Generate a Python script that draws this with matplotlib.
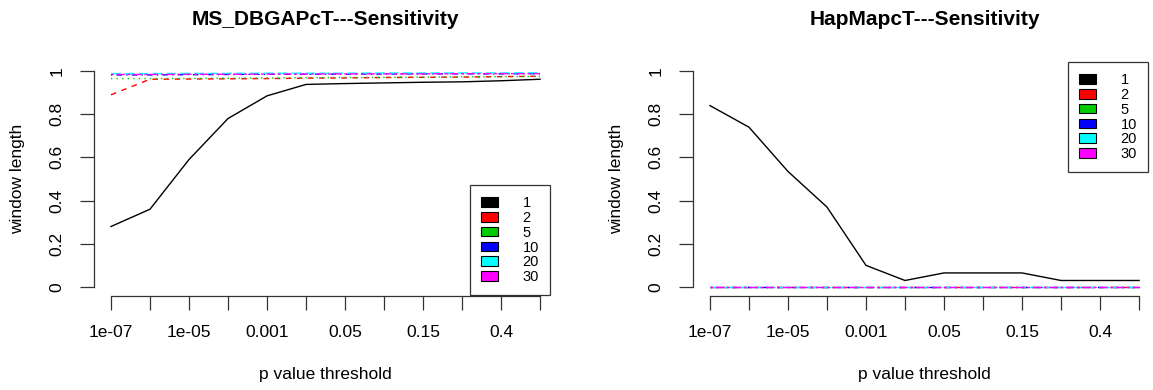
import matplotlib

matplotlib.use("Agg")
import matplotlib.pyplot as plt
from matplotlib.patches import Patch

plt.rcParams["font.family"] = ["Liberation Sans", "DejaVu Sans"]

thresholds = ["1e-07", "1e-06", "1e-05", "1e-04", "0.001", "0.01",
              "0.05", "0.1", "0.15", "0.2", "0.4", "0.5"]
windows = ["1", "2", "5", "10", "20", "30"]

# MS_DBGAPcT sensitivity per window length
ms_w1 = [0.28, 0.36, 0.59, 0.78, 0.885, 0.938, 0.942, 0.945, 0.948, 0.95, 0.955, 0.962]
ms_w2 = [0.89, 0.962, 0.963, 0.964, 0.965, 0.967, 0.968, 0.97, 0.971, 0.972, 0.974, 0.976]
ms_w5 = [0.965, 0.965, 0.966, 0.967, 0.968, 0.969, 0.97, 0.971, 0.972, 0.973, 0.974, 0.975]
ms_w10 = [0.982, 0.982, 0.983, 0.984, 0.985, 0.985, 0.986, 0.986, 0.987, 0.987, 0.987, 0.988]
ms_w20 = [0.988, 0.988, 0.989, 0.989, 0.99, 0.99, 0.99, 0.991, 0.991, 0.991, 0.991, 0.992]
ms_w30 = [0.984, 0.984, 0.985, 0.985, 0.986, 0.986, 0.987, 0.987, 0.987, 0.988, 0.988, 0.988]

# HapMapcT sensitivity per window length
hm_w1 = [0.84, 0.74, 0.535, 0.37, 0.10, 0.03, 0.065, 0.065, 0.065, 0.03, 0.03, 0.03]
hm_w2 = [0.0] * 12
hm_w5 = [0.0] * 12
hm_w10 = [0.0] * 12
hm_w20 = [0.0] * 12
hm_w30 = [0.0] * 12

colors = ["black", "#FF0000", "#00CD00", "#0000FF", "#00FFFF", "#FF00FF"]
dashes = [None, (4, 4), (1, 3), (1, 3, 4, 3), (7, 3), (2, 2, 6, 2)]

W, H = 1153, 390
fig = plt.figure(figsize=(W / 100, H / 100), dpi=100)


def panel(left_px, title, series, leg_xy):
    ax = fig.add_axes([left_px / W, 1 - 295.6 / H, 463.4 / W, 233.2 / H])
    x = list(range(1, len(thresholds) + 1))
    for vals, c, d in zip(series, colors, dashes):
        (ln,) = ax.plot(x, vals, color=c, lw=1.0)
        if d is not None:
            ln.set_dashes(d)
    ax.set_xlim(0.56, 12.44)
    ax.set_ylim(-0.04, 1.04)
    for s in ["top", "right"]:
        ax.spines[s].set_visible(False)
    ax.spines["left"].set_bounds(0, 1)
    ax.spines["bottom"].set_bounds(1, 12)
    for s in ["left", "bottom"]:
        ax.spines[s].set_linewidth(0.9)
        ax.spines[s].set_color("#333333")
    ax.set_xticks(x)
    ax.set_xticklabels([t if i % 2 == 0 else "" for i, t in enumerate(thresholds)])
    ax.set_yticks([0, 0.2, 0.4, 0.6, 0.8, 1.0])
    ax.set_yticklabels(["0", "0.2", "0.4", "0.6", "0.8", "1"], rotation=90, va="center")
    ax.tick_params(length=10, width=0.9, color="#333333", labelsize=12.5, pad=11)
    ax.text(0.5, 1.186, title, transform=ax.transAxes, ha="center", va="center",
            fontsize=15, fontweight="bold")
    ax.text(0.5, -0.34, "p value threshold", transform=ax.transAxes,
            ha="center", va="center", fontsize=12.5)
    ax.text(-0.165, 0.5, "window length", transform=ax.transAxes, rotation=90,
            ha="center", va="center", fontsize=12.5)
    handles = [Patch(facecolor=c, edgecolor="black", lw=0.8) for c in colors]
    leg = ax.legend(handles, windows, loc="upper left",
                    bbox_to_anchor=(leg_xy[0] / W, 1 - leg_xy[1] / H),
                    bbox_transform=fig.transFigure, frameon=True, fancybox=False,
                    edgecolor="black", fontsize=10.5, handlelength=1.15,
                    handleheight=0.65, handletextpad=1.7, labelspacing=0.06,
                    borderpad=0.75, borderaxespad=0)
    leg.get_frame().set_linewidth(0.9)
    return ax


panel(93.8, "MS_DBGAPcT---Sensitivity",
      [ms_w1, ms_w2, ms_w5, ms_w10, ms_w20, ms_w30], (470, 185))
panel(692.8, "HapMapcT---Sensitivity",
      [hm_w1, hm_w2, hm_w5, hm_w10, hm_w20, hm_w30], (1068, 62))

fig.savefig("out.png", dpi=100)
